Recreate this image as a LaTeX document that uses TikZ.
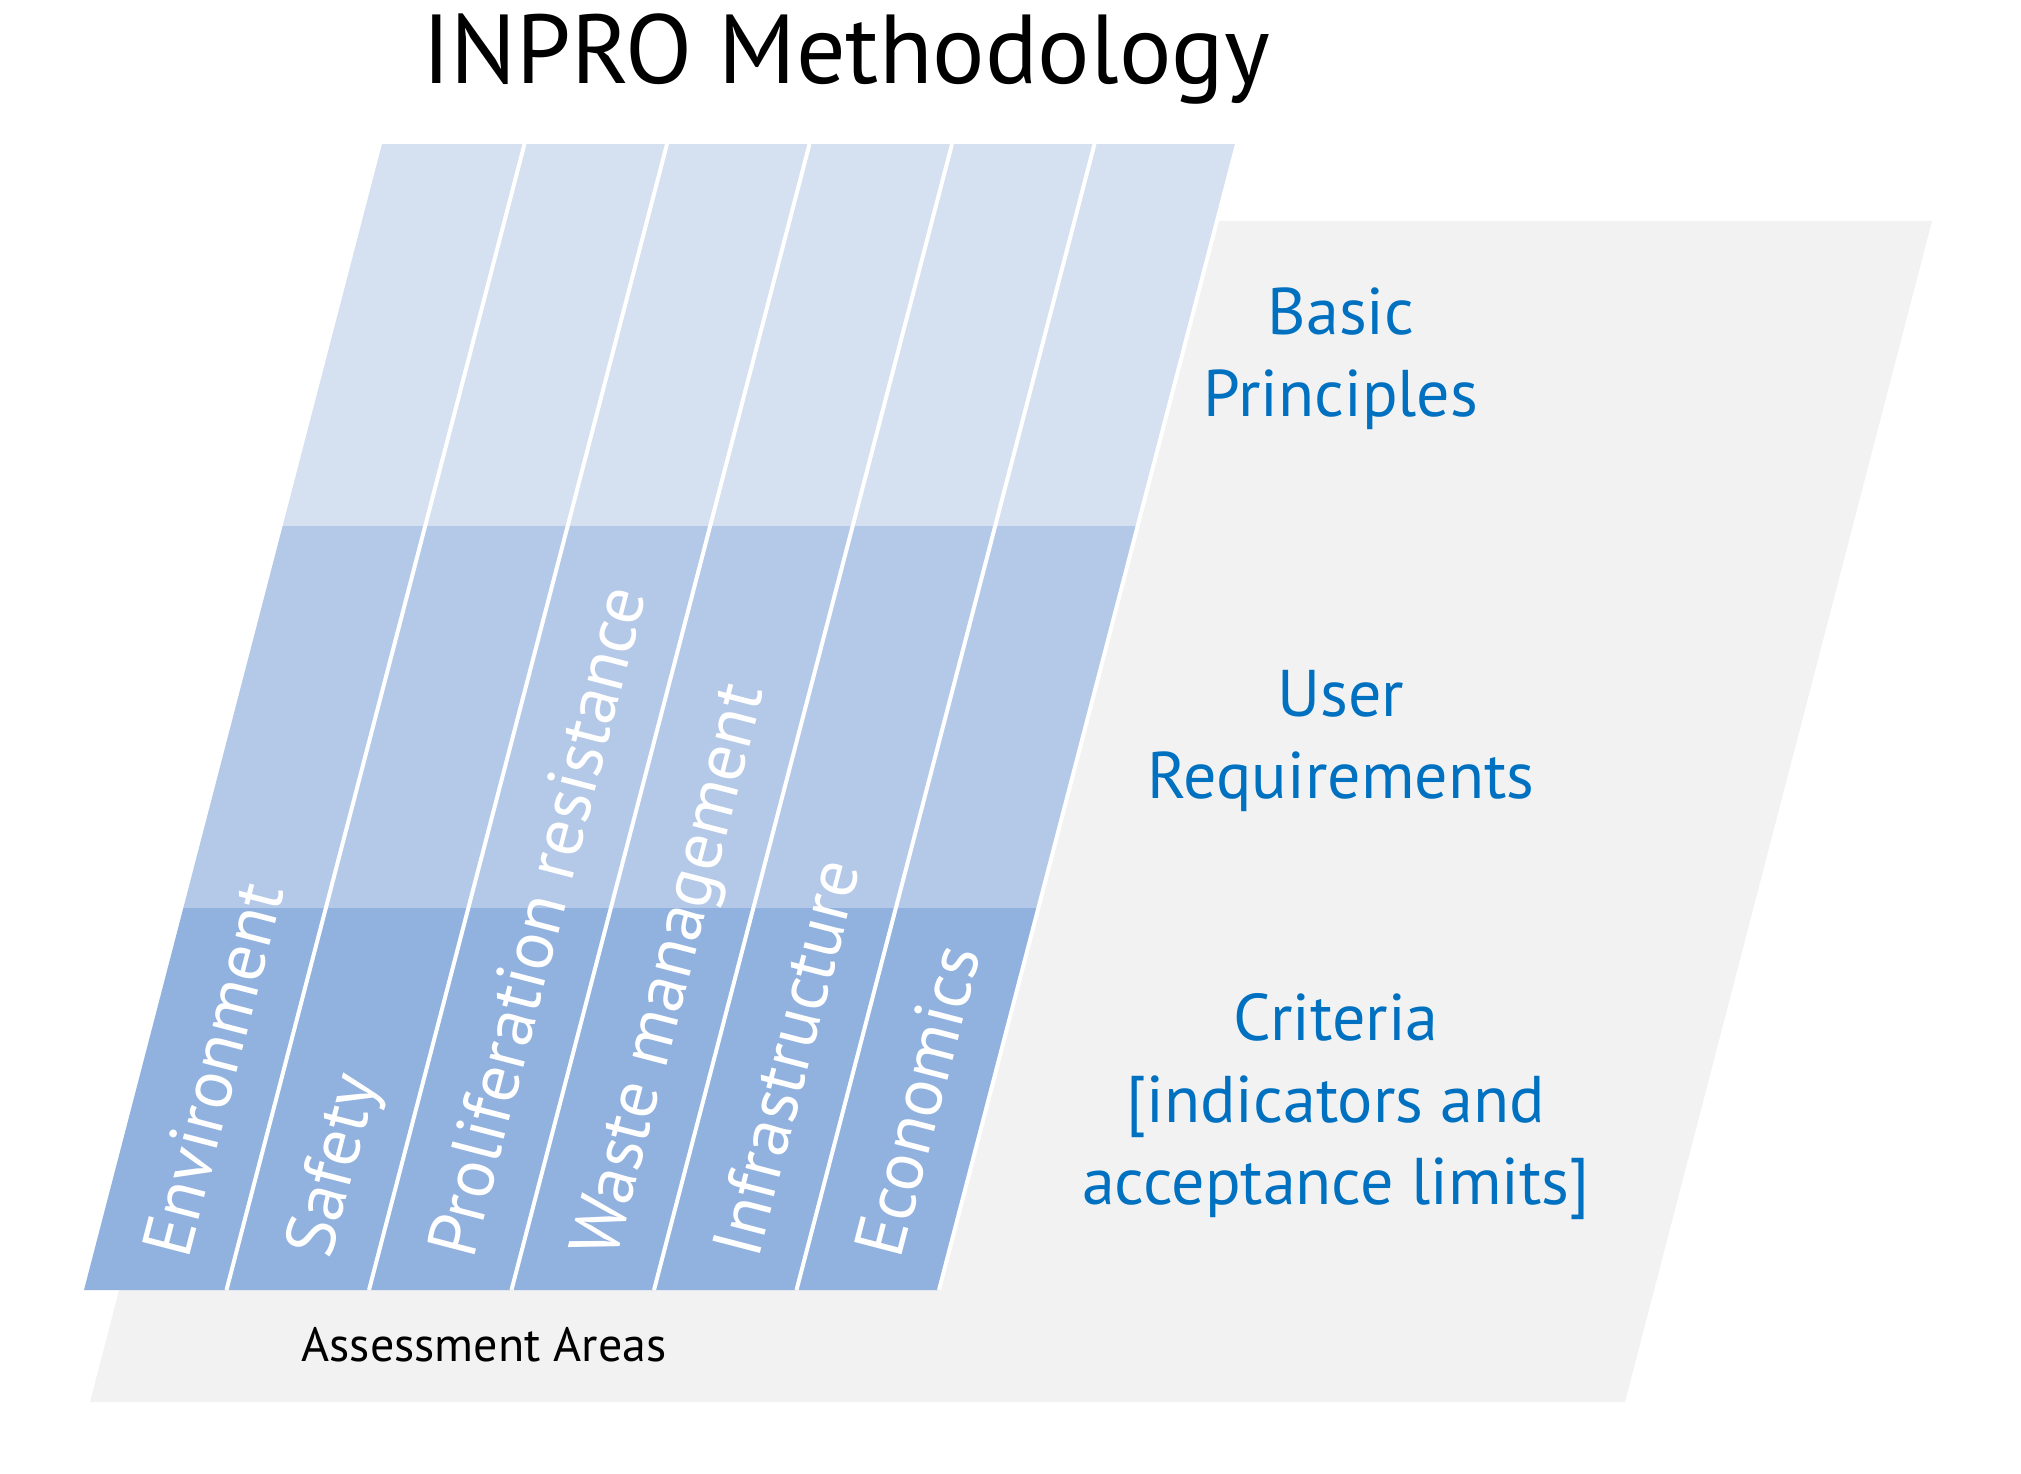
\documentclass[tikz,border=0pt]{standalone}
\usepackage{fontspec}
\setmainfont{PT Sans}
\usepackage{xcolor}
\usepackage{tikz}
\usetikzlibrary{positioning}

\definecolor{inprolight}{RGB}{213,224,241}
\definecolor{inpromid}{RGB}{180,200,231}
\definecolor{inprodark}{RGB}{145,177,222}
\definecolor{inprogray}{RGB}{242,242,242}
\definecolor{inproblue}{RGB}{0,112,192}

\begin{document}
\begin{tikzpicture}
			[x=0.5pt,y=-0.5pt,
			divider/.style={white,line width=2pt},
			area/.style={text=white,font=\fontsize{35}{35}\selectfont,rotate=75.4,anchor=base west,inner sep=0pt},
			level/.style={text=inproblue,font=\fontsize{33}{41}\selectfont,align=center,inner sep=0pt}]
			\useasboundingbox (0,0) rectangle (2021,1473);
			% grey base plane
			\fill[inprogray] (90,1402) -- (1625,1402) -- (1932,221) -- (397,221) -- cycle;
			% three bands across the columns
			\foreach \ya/\yb/\col in {144/526/inprolight, 526/908/inpromid, 908/1290/inprodark}
				\fill[\col] ({84+0.26*(1290-\ya)},\ya) -- ({939+0.26*(1290-\ya)},\ya)
					-- ({939+0.26*(1290-\yb)},\yb) -- ({84+0.26*(1290-\yb)},\yb) -- cycle;
			\foreach \i in {1,...,6}
				\draw[divider] ({84+142.5*\i},1290) -- ({382+142.5*\i},144);
			% assessment areas
			\foreach \lbl/\txt [count=\i from 0] in {env/Environment, saf/Safety, pro/Proliferation resistance,
					was/Waste management, inf/Infrastructure, eco/Economics}
				\node[area] (\lbl) at ({188+142.5*\i},1261) {\txt};
			\node[font=\fontsize{49}{49}\selectfont,anchor=base,inner sep=0pt] (title) at (846,83) {INPRO Methodology};
			\node[font=\fontsize{24}{24}\selectfont,anchor=base,inner sep=0pt] (areas) at (484,1361) {Assessment Areas};
			\node[level] (bp) at (1341,359) {Basic\\Principles};
			\node[level] (ur) at (1341,741) {User\\Requirements};
			\node[level] (crit) at (1336,1107) {Criteria\\{[}indicators and\\acceptance limits{]}};
		\end{tikzpicture}
\end{document}
